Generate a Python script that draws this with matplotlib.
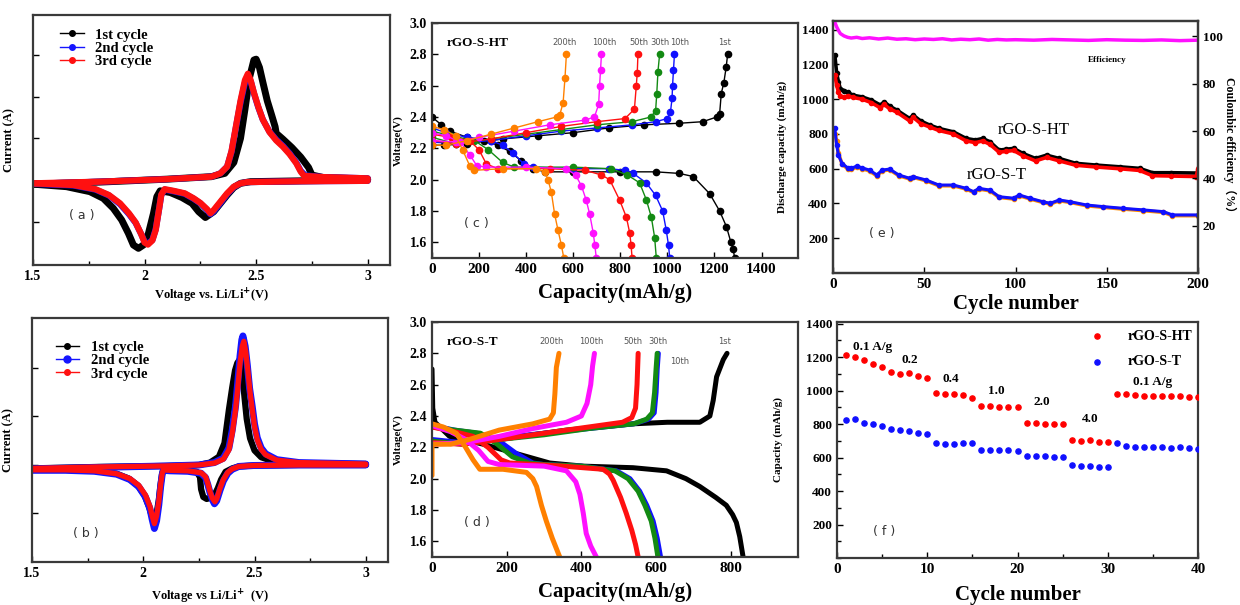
import matplotlib
matplotlib.use("Agg")
import matplotlib.pyplot as plt
from matplotlib.lines import Line2D
from matplotlib.ticker import MultipleLocator

plt.rcParams['font.family'] = ['Liberation Serif', 'DejaVu Serif']
plt.rcParams['font.weight'] = 'bold'
plt.rcParams['axes.labelweight'] = 'bold'

# ---------------- (a) CV rGO-S-HT ----------------
a_c1_cath = [(3.0, 0.0), (2.70, -0.02), (2.475, -0.04), (2.43, -0.08), (2.40, -0.18), (2.37, -0.36), (2.34, -0.56), (2.31, -0.76), (2.2725, -0.90), (2.2425, -0.76), (2.2125, -0.56), (2.1675, -0.42), (2.115, -0.30), (2.07, -0.26), (2.055, -0.40), (2.04, -0.80), (2.0175, -1.28), (1.995, -1.56), (1.9725, -1.64), (1.95, -1.56), (1.9275, -1.28), (1.8975, -0.96), (1.86, -0.68), (1.815, -0.44), (1.755, -0.28), (1.65, -0.16), (1.5, -0.10)]
a_c1_anod = [(1.5, -0.10), (1.8, -0.05), (2.1, 0.02), (2.3, 0.08), (2.36, 0.16), (2.40, 0.42), (2.43, 1.0), (2.45, 1.7), (2.47, 2.45), (2.49, 2.88), (2.50, 2.90), (2.515, 2.7), (2.53, 2.35), (2.55, 1.9), (2.57, 1.55), (2.585, 1.28), (2.59, 1.12), (2.62, 0.98), (2.66, 0.78), (2.70, 0.55), (2.735, 0.30), (2.75, 0.12), (2.8, 0.06), (3.0, 0.02)]
a_c2_cath = [(3.0, -0.02), (2.7, -0.03), (2.46, -0.05), (2.43, -0.08), (2.40, -0.17), (2.37, -0.34), (2.34, -0.55), (2.31, -0.75), (2.295, -0.82), (2.28, -0.72), (2.25, -0.56), (2.22, -0.45), (2.18, -0.33), (2.13, -0.27), (2.09, -0.23), (2.075, -0.36), (2.065, -0.70), (2.05, -1.18), (2.035, -1.44), (2.015, -1.53), (2.0, -1.48), (1.985, -1.30), (1.96, -1.03), (1.93, -0.82), (1.89, -0.58), (1.84, -0.37), (1.78, -0.23), (1.68, -0.13), (1.5, -0.09)]
a_c2_anod = [(1.5, -0.09), (1.8, -0.04), (2.1, 0.02), (2.3, 0.08), (2.34, 0.16), (2.37, 0.32), (2.39, 0.68), (2.41, 1.28), (2.43, 1.86), (2.45, 2.34), (2.465, 2.48), (2.477, 2.35), (2.49, 2.08), (2.51, 1.74), (2.53, 1.45), (2.56, 1.16), (2.59, 0.97), (2.62, 0.82), (2.65, 0.64), (2.68, 0.42), (2.70, 0.22), (2.72, 0.11), (2.8, 0.07), (3.0, 0.04)]
a_c3_cath = [(3.0, -0.02), (2.7, -0.03), (2.46, -0.05), (2.43, -0.08), (2.40, -0.16), (2.37, -0.32), (2.34, -0.52), (2.31, -0.72), (2.295, -0.80), (2.28, -0.70), (2.25, -0.55), (2.22, -0.44), (2.18, -0.32), (2.13, -0.26), (2.09, -0.22), (2.075, -0.35), (2.065, -0.70), (2.05, -1.20), (2.035, -1.45), (2.015, -1.55), (2.0, -1.50), (1.985, -1.30), (1.96, -1.02), (1.93, -0.80), (1.89, -0.56), (1.84, -0.36), (1.78, -0.22), (1.68, -0.12), (1.5, -0.08)]
a_c3_anod = [(1.5, -0.08), (1.8, -0.04), (2.1, 0.02), (2.3, 0.08), (2.34, 0.16), (2.37, 0.32), (2.39, 0.70), (2.41, 1.30), (2.43, 1.90), (2.45, 2.40), (2.463, 2.55), (2.475, 2.40), (2.49, 2.10), (2.51, 1.75), (2.53, 1.45), (2.56, 1.15), (2.59, 0.95), (2.62, 0.80), (2.65, 0.62), (2.68, 0.40), (2.70, 0.20), (2.715, 0.10), (2.8, 0.07), (3.0, 0.04)]

# ---------------- (b) CV rGO-S-T ----------------
b_c1_cath = [(3.0, 0.0), (2.7, 0.0), (2.5, -0.01), (2.43, -0.03), (2.40, -0.07), (2.37, -0.14), (2.35, -0.30), (2.335, -0.48), (2.32, -0.62), (2.30, -0.68), (2.285, -0.70), (2.27, -0.66), (2.26, -0.50), (2.255, -0.25), (2.24, -0.14), (2.2, -0.12), (2.12, -0.11), (2.09, -0.10), (2.085, -0.18), (2.078, -0.40), (2.07, -0.72), (2.06, -1.00), (2.048, -1.12), (2.035, -1.00), (2.025, -0.85), (2.005, -0.62), (1.975, -0.42), (1.935, -0.28), (1.88, -0.18), (1.78, -0.12), (1.65, -0.10), (1.5, -0.10)]
b_c1_anod = [(1.5, -0.07), (1.8, -0.04), (2.1, -0.02), (2.25, 0.0), (2.30, 0.05), (2.34, 0.17), (2.365, 0.45), (2.385, 1.14), (2.40, 1.60), (2.4125, 1.95), (2.4225, 2.10), (2.4375, 2.20), (2.445, 1.90), (2.455, 1.40), (2.465, 0.95), (2.48, 0.55), (2.50, 0.30), (2.53, 0.16), (2.58, 0.08), (2.7, 0.04), (3.0, 0.02)]
b_c2_cath = [(3.0, 0.0), (2.7, 0.0), (2.5, -0.01), (2.43, -0.03), (2.40, -0.09), (2.38, -0.17), (2.36, -0.33), (2.345, -0.52), (2.33, -0.74), (2.32, -0.80), (2.31, -0.71), (2.30, -0.57), (2.29, -0.40), (2.28, -0.26), (2.26, -0.17), (2.2, -0.13), (2.12, -0.12), (2.09, -0.11), (2.085, -0.20), (2.078, -0.45), (2.07, -0.82), (2.06, -1.15), (2.05, -1.31), (2.04, -1.12), (2.03, -0.90), (2.01, -0.66), (1.98, -0.45), (1.94, -0.30), (1.88, -0.19), (1.78, -0.13), (1.65, -0.11), (1.5, -0.11)]
b_c2_anod = [(1.5, -0.08), (1.8, -0.05), (2.1, -0.02), (2.25, 0.0), (2.32, 0.05), (2.36, 0.14), (2.385, 0.35), (2.40, 0.72), (2.415, 1.22), (2.425, 1.72), (2.435, 2.25), (2.443, 2.58), (2.448, 2.66), (2.458, 2.45), (2.468, 2.05), (2.478, 1.58), (2.49, 1.20), (2.50, 0.85), (2.5125, 0.56), (2.53, 0.35), (2.55, 0.23), (2.6, 0.11), (2.7, 0.05), (3.0, 0.02)]
b_c3_cath = [(3.0, 0.0), (2.7, 0.0), (2.5, -0.01), (2.43, -0.03), (2.40, -0.08), (2.38, -0.15), (2.36, -0.30), (2.345, -0.48), (2.33, -0.70), (2.322, -0.76), (2.31, -0.68), (2.30, -0.55), (2.29, -0.38), (2.28, -0.24), (2.26, -0.16), (2.2, -0.12), (2.12, -0.11), (2.09, -0.10), (2.085, -0.18), (2.078, -0.40), (2.07, -0.75), (2.06, -1.05), (2.05, -1.21), (2.04, -1.05), (2.03, -0.85), (2.01, -0.62), (1.98, -0.42), (1.94, -0.28), (1.88, -0.18), (1.78, -0.12), (1.65, -0.10), (1.5, -0.10)]
b_c3_anod = [(1.5, -0.07), (1.8, -0.04), (2.1, -0.02), (2.25, 0.0), (2.32, 0.04), (2.36, 0.12), (2.385, 0.31), (2.40, 0.65), (2.415, 1.14), (2.425, 1.60), (2.435, 2.10), (2.445, 2.45), (2.452, 2.55), (2.46, 2.35), (2.47, 1.95), (2.48, 1.50), (2.49, 1.14), (2.50, 0.80), (2.5125, 0.52), (2.53, 0.32), (2.55, 0.21), (2.6, 0.10), (2.7, 0.05), (3.0, 0.02)]

cv_labels = ["1st cycle", "2nd cycle", "3rd cycle"]
cv_colors = ["black", "#1515ff", "#ff1010"]

# ---------------- (c) charge/discharge rGO-S-HT ----------------
cycle_labels = ["1st", "10th", "30th", "50th", "100th", "200th"]
cycle_colors = ["black", "#1010ff", "#138a13", "#ff1010", "#ff10ff", "#ff8000"]

c_dis_1st = [(0, 2.40), (40, 2.35), (75, 2.31), (150, 2.27), (220, 2.25), (280, 2.22), (330, 2.18), (380, 2.12), (430, 2.07), (480, 2.05), (600, 2.05), (800, 2.05), (950, 2.05), (1050, 2.04), (1110, 2.02), (1180, 1.91), (1222, 1.80), (1251, 1.70), (1270, 1.60), (1279, 1.56), (1286, 1.50)]
c_chg_1st = [(0, 2.22), (50, 2.22), (150, 2.23), (300, 2.26), (450, 2.28), (600, 2.30), (750, 2.33), (900, 2.35), (1050, 2.36), (1150, 2.37), (1210, 2.40), (1222, 2.42), (1229, 2.55), (1240, 2.62), (1250, 2.72), (1256, 2.80)]
c_dis_10th = [(0, 2.33), (60, 2.30), (150, 2.27), (250, 2.25), (300, 2.22), (345, 2.17), (390, 2.10), (430, 2.08), (600, 2.07), (750, 2.07), (820, 2.06), (855, 2.04), (910, 1.98), (950, 1.90), (980, 1.80), (995, 1.68), (1005, 1.58), (1010, 1.50)]
c_chg_10th = [(0, 2.24), (100, 2.23), (250, 2.25), (400, 2.28), (550, 2.31), (700, 2.33), (850, 2.35), (950, 2.37), (1000, 2.39), (1013, 2.43), (1020, 2.52), (1022, 2.60), (1026, 2.70), (1030, 2.80)]
c_dis_30th = [(0, 2.31), (80, 2.28), (180, 2.25), (240, 2.19), (300, 2.11), (350, 2.08), (600, 2.08), (760, 2.07), (830, 2.03), (882, 1.98), (911, 1.87), (932, 1.76), (946, 1.63), (953, 1.50)]
c_chg_30th = [(0, 2.27), (100, 2.23), (250, 2.26), (400, 2.29), (550, 2.32), (700, 2.35), (850, 2.37), (930, 2.40), (950, 2.44), (955, 2.55), (960, 2.69), (967, 2.80)]
c_dis_50th = [(0, 2.29), (80, 2.27), (160, 2.25), (200, 2.19), (231, 2.10), (280, 2.07), (500, 2.07), (650, 2.06), (720, 2.03), (755, 2.00), (797, 1.87), (826, 1.76), (840, 1.66), (846, 1.58), (850, 1.50)]
c_chg_50th = [(0, 2.25), (100, 2.23), (250, 2.26), (400, 2.30), (550, 2.34), (700, 2.37), (820, 2.39), (860, 2.45), (868, 2.60), (872, 2.68), (875, 2.80)]
c_dis_100th = [(0, 2.30), (60, 2.28), (120, 2.24), (160, 2.16), (190, 2.09), (230, 2.08), (400, 2.08), (570, 2.07), (610, 2.03), (635, 1.96), (655, 1.87), (670, 1.78), (685, 1.66), (692, 1.58), (698, 1.50)]
c_chg_100th = [(0, 2.25), (100, 2.24), (200, 2.27), (350, 2.31), (500, 2.35), (650, 2.38), (690, 2.40), (708, 2.48), (712, 2.60), (716, 2.70), (720, 2.80)]
c_dis_200th = [(0, 2.34), (50, 2.32), (100, 2.28), (130, 2.19), (160, 2.09), (180, 2.06), (300, 2.07), (440, 2.07), (480, 2.05), (493, 2.00), (507, 1.92), (521, 1.78), (535, 1.68), (550, 1.58), (560, 1.50)]
c_chg_200th = [(0, 2.22), (60, 2.22), (150, 2.25), (250, 2.29), (350, 2.33), (450, 2.37), (530, 2.40), (542, 2.41), (557, 2.49), (565, 2.65), (571, 2.80)]
c_label_caps = [1244, 1052, 967, 880, 734, 564]

# ---------------- (d) charge/discharge rGO-S-T ----------------
d_dis_1st = [(0, 2.70), (2, 2.45), (8, 2.36), (47, 2.27), (137, 2.22), (226, 2.16), (315, 2.10), (404, 2.08), (538, 2.07), (628, 2.05), (680, 2.00), (717, 1.95), (760, 1.88), (788, 1.83), (805, 1.77), (815, 1.72), (824, 1.63), (833, 1.50)]
d_chg_1st = [(0, 2.23), (100, 2.24), (181, 2.25), (270, 2.28), (360, 2.31), (450, 2.33), (538, 2.35), (630, 2.36), (717, 2.36), (744, 2.40), (753, 2.50), (762, 2.65), (780, 2.76), (790, 2.80)]
d_dis_10th = [(0, 2.34), (60, 2.31), (120, 2.29), (180, 2.24), (226, 2.16), (270, 2.10), (300, 2.09), (400, 2.08), (494, 2.05), (530, 2.00), (556, 1.92), (575, 1.83), (592, 1.73), (603, 1.62), (612, 1.50)]
d_chg_10th = [(0, 2.25), (80, 2.23), (180, 2.26), (300, 2.29), (420, 2.32), (540, 2.35), (580, 2.38), (595, 2.42), (600, 2.55), (603, 2.70), (606, 2.80)]
d_dis_30th = [(0, 2.33), (60, 2.31), (130, 2.29), (175, 2.22), (215, 2.14), (260, 2.10), (300, 2.09), (400, 2.08), (490, 2.05), (525, 2.00), (552, 1.92), (570, 1.83), (587, 1.73), (597, 1.62), (605, 1.50)]
d_chg_30th = [(0, 2.24), (80, 2.22), (180, 2.25), (300, 2.28), (420, 2.32), (540, 2.35), (575, 2.38), (590, 2.42), (596, 2.55), (600, 2.70), (603, 2.80)]
d_dis_50th = [(0, 2.33), (60, 2.30), (110, 2.27), (150, 2.20), (185, 2.12), (208, 2.10), (350, 2.08), (458, 2.06), (475, 2.03), (485, 1.99), (505, 1.88), (520, 1.78), (535, 1.67), (545, 1.58), (552, 1.50)]
d_chg_50th = [(0, 2.23), (80, 2.22), (180, 2.25), (300, 2.29), (420, 2.33), (510, 2.36), (535, 2.39), (545, 2.45), (549, 2.60), (552, 2.80)]
d_dis_100th = [(0, 2.34), (50, 2.30), (90, 2.25), (125, 2.18), (150, 2.11), (180, 2.09), (300, 2.08), (360, 2.05), (385, 1.98), (396, 1.90), (405, 1.78), (413, 1.65), (425, 1.57), (440, 1.50)]
d_chg_100th = [(0, 2.22), (90, 2.23), (180, 2.27), (270, 2.32), (360, 2.36), (400, 2.40), (415, 2.48), (425, 2.60), (430, 2.72), (435, 2.80)]
d_dis_200th = [(0, 2.35), (30, 2.33), (65, 2.29), (90, 2.20), (110, 2.12), (128, 2.06), (190, 2.06), (253, 2.04), (270, 2.00), (280, 1.95), (293, 1.83), (306, 1.73), (322, 1.62), (342, 1.50)]
d_chg_200th = [(0, 2.02), (0, 2.22), (50, 2.22), (100, 2.25), (180, 2.31), (270, 2.35), (315, 2.38), (325, 2.42), (329, 2.54), (333, 2.71), (340, 2.80)]
d_label_caps = [784, 663, 605, 538, 427, 320]

# ---------------- (e) cycling ----------------
e_ht_chg_cyc = [1, 2, 3, 4, 6, 8, 11, 16, 21, 26, 28, 31, 35, 42, 44, 48, 53, 58, 66, 73, 78, 82, 86, 91, 95, 99, 104, 111, 117, 124, 133, 144, 157, 168, 175, 185, 200]
e_ht_chg_cap = [1253, 1150, 1100, 1061, 1050, 1040, 1023, 1013, 995, 966, 985, 960, 937, 889, 908, 875, 851, 832, 812, 774, 765, 774, 755, 707, 712, 717, 688, 659, 678, 659, 631, 621, 611, 602, 577, 577, 575]
e_ht_dis_cyc = [1, 2, 3, 4, 6, 8, 11, 16, 21, 26, 28, 31, 35, 42, 44, 48, 53, 58, 66, 73, 78, 82, 86, 91, 95, 99, 104, 111, 117, 124, 133, 144, 157, 168, 175, 185, 199, 200]
e_ht_dis_cap = [1140, 1080, 1040, 1020, 1010, 1020, 1010, 1000, 980, 950, 970, 945, 925, 875, 895, 860, 840, 820, 800, 760, 750, 760, 740, 695, 700, 705, 675, 645, 665, 645, 620, 610, 600, 590, 560, 558, 555, 600]
e_t_cyc = [1, 2, 3, 5, 8, 10, 13, 16, 20, 24, 27, 31, 36, 42, 44, 51, 58, 66, 73, 77, 80, 86, 91, 99, 102, 108, 115, 119, 124, 130, 139, 148, 159, 170, 181, 186, 200]
e_t_dis_cap = [832, 736, 678, 630, 605, 602, 615, 605, 592, 564, 592, 598, 564, 545, 554, 535, 506, 506, 487, 468, 487, 477, 439, 430, 449, 430, 410, 401, 420, 410, 391, 382, 372, 363, 353, 334, 334]
e_t_chg_cap = [800, 760, 690, 625, 600, 596, 610, 600, 587, 559, 588, 594, 560, 541, 550, 531, 502, 502, 483, 464, 483, 473, 435, 426, 445, 426, 406, 397, 416, 406, 387, 378, 368, 359, 349, 330, 330]
e_eff_cyc = [1, 2, 3, 4, 6, 8, 10, 13, 16, 20, 25, 30, 35, 40, 45, 50, 55, 60, 65, 70, 75, 80, 85, 90, 95, 100, 110, 120, 130, 140, 150, 160, 170, 180, 190, 200]
e_eff_val = [106, 104, 102.5, 101.2, 100.2, 99.6, 99.3, 99.6, 99.1, 99.4, 98.9, 99.3, 98.8, 99.0, 98.6, 98.9, 98.7, 99.0, 98.5, 98.8, 98.6, 98.9, 98.4, 98.7, 98.5, 98.6, 98.4, 98.7, 98.5, 98.3, 98.6, 98.4, 98.3, 98.5, 98.2, 98.4]

# ---------------- (f) rate ----------------
f_cycles = list(range(1, 41))
f_ht = [1211, 1201, 1181, 1161, 1141, 1111, 1101, 1107, 1086, 1078,
        986, 982, 978, 972, 956, 906, 906, 902, 902, 902,
        807, 807, 803, 803, 803, 707, 697, 703, 693, 693,
        982, 982, 972, 966, 968, 968, 966, 966, 964, 962]
f_t = [823, 833, 809, 799, 789, 773, 763, 759, 747, 743,
       688, 680, 680, 688, 688, 648, 648, 648, 644, 640,
       610, 610, 608, 604, 604, 558, 550, 550, 546, 546,
       690, 668, 664, 664, 664, 664, 660, 664, 660, 650]
f_rate_labels = ["0.1 A/g", "0.2", "0.4", "1.0", "2.0", "4.0", "0.1 A/g"]
f_rate_pos = [(3.9, 1261), (8.1, 1181), (12.6, 1068), (17.7, 998), (22.7, 932), (28.0, 833), (35.0, 1052)]

# =====================================================================
fig = plt.figure(figsize=(12.4, 6.05), dpi=100)
W, H = 1240, 605


def add_ax(x0, y0, x1, y1):
    return fig.add_axes([x0 / W, 1 - y1 / H, (x1 - x0) / W, (y1 - y0) / H])


spine_col = '#3a3a3a'


def style(ax, size=9):
    for s in ax.spines.values():
        s.set_color(spine_col)
        s.set_linewidth(1.6)
    ax.tick_params(direction='in', length=4, width=1.0, labelsize=size, colors='black')
    ax.tick_params(which='minor', direction='in', length=3, width=1.0)


def xy(pts):
    return [p[0] for p in pts], [p[1] for p in pts]


sans = ['DejaVu Sans']

# (a)
ax_a = add_ax(33, 15, 390, 265)
for cath, anod, col, lw in [(a_c1_cath, a_c1_anod, cv_colors[0], 5.0),
                            (a_c2_cath, a_c2_anod, cv_colors[1], 4.5),
                            (a_c3_cath, a_c3_anod, cv_colors[2], 4.5)]:
    for pts in (cath, anod):
        x, y = xy(pts)
        ax_a.plot(x, y, color=col, lw=lw, solid_capstyle='round', solid_joinstyle='round')
ax_a.set_xlim(1.5, 3.1)
ax_a.set_ylim(-2.04, 3.96)
ax_a.set_xticks([1.5, 2, 2.5, 3])
ax_a.set_xticklabels(['1.5', '2', '2.5', '3'])
ax_a.xaxis.set_minor_locator(MultipleLocator(0.25))
ax_a.set_yticks([-1, 1, 2, 3])
ax_a.set_yticklabels([])
style(ax_a, 10)
ax_a.set_xlabel('Voltage vs. Li/Li$^{+}$(V)', fontsize=9)
ax_a.xaxis.set_label_coords(0.5, -0.085)
ax_a.set_ylabel('Current (A)', fontsize=9)
ax_a.yaxis.set_label_coords(-0.05, 0.5)
handles = [Line2D([], [], color=c, marker='o', ms=4, lw=1) for c in cv_colors]
ax_a.legend(handles, cv_labels, loc='upper left', bbox_to_anchor=(0.06, 0.97), frameon=False,
            prop={'weight': 'bold', 'size': 10.5}, handlelength=1.6, labelspacing=0.0, borderaxespad=0)
ax_a.text(1.72, -0.86, '( a )', fontsize=9, family=sans, color='#333333', ha='center', va='center', weight='normal')

# (b)
ax_b = add_ax(32, 318, 388, 562)
for cath, anod, col, lw in [(b_c1_cath, b_c1_anod, cv_colors[0], 4.5),
                            (b_c2_cath, b_c2_anod, cv_colors[1], 5.0),
                            (b_c3_cath, b_c3_anod, cv_colors[2], 3.8)]:
    for pts in (cath, anod):
        x, y = xy(pts)
        ax_b.plot(x, y, color=col, lw=lw, solid_capstyle='round', solid_joinstyle='round')
ax_b.set_xlim(1.5, 3.1)
ax_b.set_ylim(-2.0, 3.03)
ax_b.set_xticks([1.5, 2, 2.5, 3])
ax_b.set_xticklabels(['1.5', '2', '2.5', '3'])
ax_b.xaxis.set_minor_locator(MultipleLocator(0.25))
ax_b.set_yticks([-1, 0, 1, 2])
ax_b.set_yticklabels([])
style(ax_b, 10)
ax_b.set_xlabel('Voltage vs Li/Li$^{+}$  (V)', fontsize=9)
ax_b.xaxis.set_label_coords(0.5, -0.105)
ax_b.set_ylabel('Current (A)', fontsize=9)
ax_b.yaxis.set_label_coords(-0.05, 0.5)
handles_b = [Line2D([], [], color=c, marker='o', ms=4 if i != 1 else 5, lw=1) for i, c in enumerate(cv_colors)]
ax_b.legend(handles_b, cv_labels, loc='upper left', bbox_to_anchor=(0.05, 0.93), frameon=False,
            prop={'weight': 'bold', 'size': 10.5}, handlelength=1.6, labelspacing=0.0, borderaxespad=0)
ax_b.text(1.74, -1.41, '( b )', fontsize=9, family=sans, color='#333333', ha='center', va='center', weight='normal')


def gcd_panel(ax, series, label_caps, xlim, xticks, title, plabel, plabel_pos, dense):
    for (dis, chg), col in zip(series, cycle_colors):
        for pts in (dis, chg):
            x, y = xy(pts)
            if dense:
                ax.plot(x, y, color=col, lw=3.6, solid_capstyle='round')
            else:
                ax.plot(x, y, color=col, lw=1.0, marker='o', ms=4.5)
    ax.set_xlim(*xlim)
    ax.set_ylim(1.5, 3.0)
    ax.set_xticks(xticks)
    ax.set_yticks([1.6, 1.8, 2.0, 2.2, 2.4, 2.6, 2.8, 3.0])
    ax.set_yticklabels(['1.6', '1.8', '2.0', '2.2', '2.4', '2.6', '2.8', '3.0'])
    style(ax, 10)
    ax.tick_params(axis='x', labelsize=11)
    ax.set_xlabel('Capacity(mAh/g)', fontsize=15)
    ax.xaxis.set_label_coords(0.5, -0.105)
    ax.set_ylabel('Voltage(V)', fontsize=8)
    ax.yaxis.set_label_coords(-0.08, 0.5)
    ax.text(0.04 * xlim[1], 2.87, title, fontsize=9.5, weight='bold', ha='left', va='center')
    for lab, cap in zip(cycle_labels, label_caps):
        yy = 2.875
        if lab == '10th' and dense:
            yy = 2.745
        ax.text(cap, yy, lab, fontsize=6, family=sans, color='#555555', weight='normal', ha='center', va='center')
    ax.text(plabel_pos[0], plabel_pos[1], plabel, fontsize=9, family=sans, color='#333333', weight='normal', ha='center', va='center')


# (c)
ax_c = add_ax(432, 23, 798, 258)
c_series = [(c_dis_1st, c_chg_1st), (c_dis_10th, c_chg_10th), (c_dis_30th, c_chg_30th),
            (c_dis_50th, c_chg_50th), (c_dis_100th, c_chg_100th), (c_dis_200th, c_chg_200th)]
gcd_panel(ax_c, c_series, c_label_caps, (0, 1555), [0, 200, 400, 600, 800, 1000, 1200, 1400],
          'rGO-S-HT', '( c )', (188, 1.72), dense=False)

# (d)
ax_d = add_ax(432, 322, 798, 557)
d_series = [(d_dis_1st, d_chg_1st), (d_dis_10th, d_chg_10th), (d_dis_30th, d_chg_30th),
            (d_dis_50th, d_chg_50th), (d_dis_100th, d_chg_100th), (d_dis_200th, d_chg_200th)]
gcd_panel(ax_d, d_series, d_label_caps, (0, 980), [0, 200, 400, 600, 800],
          'rGO-S-T', '( d )', (120, 1.72), dense=True)

# (e)
ax_e = add_ax(833, 21, 1198, 273)
ax_e.plot(e_ht_chg_cyc, e_ht_chg_cap, color='black', lw=2.6, marker='o', ms=3)
ax_e.plot(e_ht_dis_cyc, e_ht_dis_cap, color='red', lw=2.6, marker='o', ms=3)
ax_e.plot(e_t_cyc, e_t_chg_cap, color='#ff8c00', lw=2.6, marker='o', ms=3)
ax_e.plot(e_t_cyc, e_t_dis_cap, color='#1010ff', lw=2.2, marker='o', ms=3)
ax_e.set_xlim(0, 200)
ax_e.set_ylim(0, 1450)
ax_e.set_xticks([0, 50, 100, 150, 200])
ax_e.set_yticks([200, 400, 600, 800, 1000, 1200, 1400])
style(ax_e, 9.5)
ax_e.tick_params(axis='x', labelsize=11)
ax_e2 = ax_e.twinx()
ax_e2.plot(e_eff_cyc, e_eff_val, color='#ff10ff', lw=2.5)
ax_e2.set_ylim(0, 106.5)
ax_e2.set_yticks([20, 40, 60, 80, 100])
style(ax_e2, 9.5)
ax_e.set_xlabel('Cycle number', fontsize=15)
ax_e.xaxis.set_label_coords(0.5, -0.085)
ax_e.set_ylabel('Discharge capacity (mAh/g)', fontsize=8)
ax_e.yaxis.set_label_coords(-0.125, 0.5)
ax_e2.set_ylabel('Coulombic efficiency\uff08%\uff09', fontsize=8.5, rotation=270,
                 family=['Liberation Serif', 'Noto Sans CJK SC'])
ax_e2.yaxis.set_label_coords(1.105, 0.5)
ax_e.text(150, 1224, 'Efficiency', fontsize=6.5, ha='center', va='center')
ax_e.text(110, 822, 'rGO-S-HT', fontsize=12, weight='normal', ha='center', va='center')
ax_e.text(89.5, 564, 'rGO-S-T', fontsize=12, weight='normal', ha='center', va='center')
ax_e.text(26.5, 229, '( e )', fontsize=9, family=sans, color='#333333', weight='normal', ha='center', va='center')

# (f)
ax_f = add_ax(837, 322, 1198, 558)
ax_f.scatter(f_cycles, f_ht, color='red', s=14, zorder=3, label='rGO-S-HT')
ax_f.scatter(f_cycles, f_t, color='#1010ff', s=14, zorder=3, label='rGO-S-T')
ax_f.set_xlim(0, 40)
ax_f.set_ylim(0, 1410)
ax_f.set_xticks([0, 10, 20, 30, 40])
ax_f.xaxis.set_minor_locator(MultipleLocator(5))
ax_f.set_yticks([200, 400, 600, 800, 1000, 1200, 1400])
ax_f.yaxis.set_minor_locator(MultipleLocator(100))
style(ax_f, 9.5)
ax_f.tick_params(axis='x', labelsize=11)
ax_f.set_xlabel('Cycle number', fontsize=15)
ax_f.xaxis.set_label_coords(0.5, -0.115)
ax_f.set_ylabel('Capacity (mAh/g)', fontsize=8)
ax_f.yaxis.set_label_coords(-0.15, 0.5)
for lab, (cx, cy) in zip(f_rate_labels, f_rate_pos):
    ax_f.text(cx, cy, lab, fontsize=9.5, ha='center', va='center')
ax_f.legend(loc='upper right', bbox_to_anchor=(1.0, 0.99), borderaxespad=0, frameon=False,
            prop={'weight': 'bold', 'size': 10}, handletextpad=1.2, labelspacing=0.9, scatterpoints=1)
ax_f.text(5.2, 156, '( f )', fontsize=9, family=sans, color='#333333', weight='normal', ha='center', va='center')

fig.savefig('out.png', dpi=100)
